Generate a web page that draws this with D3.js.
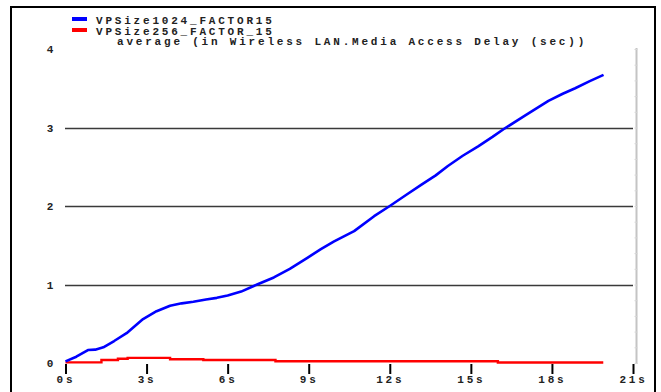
<!DOCTYPE html>
<html>
<head>
<meta charset="utf-8">
<script src="https://cdn.jsdelivr.net/npm/d3@7"></script>
<style>
  html, body { margin: 0; padding: 0; background: #fff; }
  svg { display: block; }
  text { font-family: "Liberation Mono", "DejaVu Sans Mono", monospace; font-weight: bold; font-size: 11px; fill: #222; letter-spacing: 2.8px; }
</style>
</head>
<body>
<svg id="chart" width="661" height="392"></svg>
<script>
// Media access delay (sec) averaged over simulation time
const seriesNames = ["VPSize1024_FACTOR15", "VPSize256_FACTOR_15"];
const seriesColors = ["#0000ff", "#ff0000"];
const statTitle = "average (in Wireless LAN.Media Access Delay (sec))";

const timeVP1024 = [0, 0.4, 0.83, 1.1, 1.4, 1.8, 2.26, 2.87, 3.37, 3.87, 4.3, 4.73, 5.2, 5.6, 6.0, 6.5,
  7.09, 7.71, 8.3, 8.95, 9.45, 9.94, 10.68, 11.42, 12.0, 12.6, 13.16, 13.7, 14.15, 14.7, 15.27,
  15.8, 16.26, 17.0, 17.87, 18.4, 18.86, 19.4, 19.91];
const delayVP1024 = [0.02, 0.08, 0.165, 0.17, 0.2, 0.28, 0.38, 0.56, 0.66, 0.73, 0.76, 0.78, 0.81, 0.83, 0.86, 0.91,
  1.0, 1.09, 1.2, 1.34, 1.45, 1.55, 1.68, 1.87, 2.0, 2.14, 2.27, 2.39, 2.51, 2.64, 2.76,
  2.88, 2.99, 3.15, 3.34, 3.43, 3.5, 3.59, 3.67];

const timeVP256 = [0, 1.33, 1.94, 2.3, 3.87, 5.1, 7.77, 16.0, 19.9];
const delayVP256 = [0.008, 0.038, 0.055, 0.065, 0.047, 0.038, 0.022, 0.006, 0.006];

const xTickValues = [0, 3, 6, 9, 12, 15, 18, 21];
const xTickLabels = ["0s", "3s", "6s", "9s", "12s", "15s", "18s", "21s"];
const yTickValues = [0, 1, 2, 3, 4];
const yTickLabels = ["0", "1", "2", "3", "4"];

const svg = d3.select("#chart");

const x = d3.scaleLinear().domain([0, 21]).range([65.5, 633]);
const y = d3.scaleLinear().domain([0, 4]).range([363, 49]);

// outer frame
svg.append("rect")
  .attr("x", 11).attr("y", 7).attr("width", 644).attr("height", 392)
  .attr("fill", "none").attr("stroke", "#000").attr("stroke-width", 2);

// horizontal grid lines
svg.append("g").selectAll("line")
  .data(yTickValues.filter(v => v > 0 && v < 4))
  .join("line")
  .attr("x1", 65).attr("x2", x(21))
  .attr("y1", d => Math.round(y(d)) + 0.5).attr("y2", d => Math.round(y(d)) + 0.5)
  .attr("stroke", "#3a3a3a").attr("stroke-width", 1.4);

// right-hand scale line with faint minor ticks
const rightAxis = d3.axisRight(y)
  .tickValues(d3.range(0, 4.01, 0.2))
  .tickSize(2)
  .tickFormat("");
const ra = svg.append("g").attr("transform", "translate(636.5,0)").call(rightAxis);
ra.select(".domain").attr("stroke", "#c4c4c4").attr("stroke-width", 2)
  .attr("d", `M0,${y(4) - 1}V${y(0) + 1}`);
ra.selectAll(".tick line").attr("stroke", "#d6d6d6").attr("x1", -2).attr("x2", 1);

// bottom axis
const xAxis = d3.axisBottom(x)
  .tickValues(xTickValues)
  .tickSize(10)
  .tickPadding(3)
  .tickFormat((d, i) => xTickLabels[i]);
const xa = svg.append("g").attr("transform", "translate(0,364)").call(xAxis);
xa.select(".domain").remove();
xa.selectAll(".tick line").attr("stroke", "#000").attr("stroke-width", 2);
xa.selectAll(".tick text")
  .attr("font-size", null).attr("font-family", null)
  .style("fill", "#222").attr("dy", "0.55em");

// left labels
const yAxis = d3.axisLeft(y)
  .tickValues(yTickValues)
  .tickSize(0)
  .tickFormat((d, i) => yTickLabels[i]);
const ya = svg.append("g").attr("transform", "translate(50,0)").call(yAxis);
ya.select(".domain").remove();
ya.selectAll(".tick text")
  .attr("font-size", null).attr("font-family", null)
  .attr("x", 1.4).attr("text-anchor", "middle").style("fill", "#222");

// series
const line = d3.line().x(d => x(d[0])).y(d => y(d[1]));
const lineStep = d3.line().x(d => x(d[0])).y(d => y(d[1])).curve(d3.curveStepAfter);

svg.append("path")
  .datum(timeVP256.map((t, i) => [t, delayVP256[i]]))
  .attr("d", lineStep)
  .attr("fill", "none").attr("stroke", seriesColors[1]).attr("stroke-width", 2.4);

svg.append("path")
  .datum(timeVP1024.map((t, i) => [t, delayVP1024[i]]))
  .attr("d", line)
  .attr("fill", "none").attr("stroke", seriesColors[0]).attr("stroke-width", 2.6)
  .attr("stroke-linejoin", "round");

// legend
const legend = svg.append("g");
seriesNames.forEach((name, i) => {
  legend.append("rect")
    .attr("x", 72).attr("y", 17 + i * 11).attr("width", 15).attr("height", 4)
    .attr("fill", seriesColors[i]);
  legend.append("text")
    .attr("x", 96).attr("y", 24 + i * 10.5)
    .text(name);
});
legend.append("text").attr("x", 117).attr("y", 45).text(statTitle);
</script>
</body>
</html>
